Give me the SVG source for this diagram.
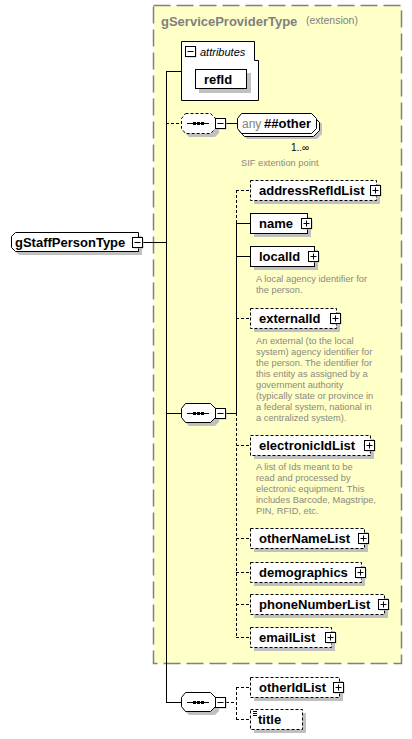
<svg xmlns="http://www.w3.org/2000/svg" width="412" height="739" viewBox="0 0 412 739">
<defs>
<style>
.lbl{font-family:"Liberation Sans",Arial,sans-serif;font-weight:bold;font-size:13px;fill:#000}
.desc{font-family:"Liberation Sans",Arial,sans-serif;font-size:9.3px;fill:#8a8a80}
.box{fill:#fff;stroke:#000;stroke-width:1}
.opt{stroke-dasharray:3,2}
.sh{fill:#c0c0c0}
.ln{stroke:#000;stroke-width:1;fill:none}
.dl{stroke:#000;stroke-width:1;fill:none;stroke-dasharray:3,2}
.ico{fill:#fff;stroke:#000;stroke-width:1}
</style>
<g id="plus"><rect x="1.5" y="1.5" width="10" height="10" fill="#c0c0c0"/><rect x="0.5" y="0.5" width="10" height="10" class="ico"/><path d="M2.5 5.5H8.5M5.5 2.5V8.5" class="ln"/></g>
<g id="minus"><rect x="1.5" y="1.5" width="10" height="10" fill="#c0c0c0"/><rect x="0.5" y="0.5" width="10" height="10" class="ico"/><path d="M2.5 5.5H8.5" class="ln"/></g>
<g id="seqicon"><path d="M6 10H28" class="ln"/><rect x="12" y="8.5" width="3" height="3" fill="#000"/><rect x="16" y="8.5" width="3" height="3" fill="#000"/><rect x="20" y="8.5" width="3" height="3" fill="#000"/></g>
</defs>

<g id="extension">
<rect x="153.5" y="5.5" width="248" height="658" fill="#ffffc8" stroke="#808080" stroke-width="1.5" stroke-dasharray="17,6"/>
<text x="161" y="26" font-family="Liberation Sans,Arial,sans-serif" font-weight="bold" font-size="13" fill="#808080">gServiceProviderType</text>
<text x="306" y="24" font-family="Liberation Sans,Arial,sans-serif" font-size="10.5" fill="#808080">(extension)</text>
</g>

<g id="connectors">
<path d="M143 242.5H166.5" class="ln"/>
<path d="M166.5 71V702.5" class="ln"/>
<path d="M166 71.5H181" class="ln"/>
<path d="M166 123.5H181" class="dl"/>
<path d="M226 123.5H237" class="ln"/>
<path d="M166 413.5H181" class="ln"/>
<path d="M226 413.5H236.5" class="ln"/>
<path d="M236.5 190V223" class="dl"/>
<path d="M236.5 223V413" class="ln"/>
<path d="M236.5 413V637.5" class="dl"/>
<path d="M236 190.5H250" class="dl"/>
<path d="M236 223.5H250" class="ln"/>
<path d="M236 256.5H250" class="ln"/>
<path d="M236 318.5H250" class="dl"/>
<path d="M236 445.5H250" class="dl"/>
<path d="M236 538.5H250" class="dl"/>
<path d="M236 572.5H250" class="dl"/>
<path d="M236 604.5H250" class="dl"/>
<path d="M236 637.5H250" class="dl"/>
<path d="M166 702.5H181" class="ln"/>
<path d="M226 702.5H236.5" class="dl"/>
<path d="M236.5 687V719.5" class="dl"/>
<path d="M236 687.5H250" class="dl"/>
<path d="M236 719.5H250" class="dl"/>
</g>

<g id="gStaffPersonType">
<polygon points="19,236 142,236 142,255 19,255 15,251 15,240" class="sh"/>
<polygon points="15.5,232.5 138.5,232.5 138.5,251.5 15.5,251.5 11.5,247.5 11.5,236.5" class="box"/>
<text x="15" y="247" class="lbl">gStaffPersonType</text>
<use href="#minus" x="132" y="237"/>
</g>

<g id="attributes">
<polygon points="181.5,41.5 254.5,41.5 254.5,60.5 258.5,60.5 258.5,100.5 181.5,100.5" fill="#fff" stroke="#000"/>
<use href="#minus" x="185" y="46"/>
<text x="200" y="56" font-family="Liberation Sans,Arial,sans-serif" font-style="italic" font-size="11" fill="#000">attributes</text>
</g>

<g id="refId">
<rect x="199" y="73" width="52" height="20" class="sh"/>
<rect x="195.5" y="69.5" width="51" height="19" class="box"/>
<text x="204" y="84" class="lbl">refId</text>
</g>

<g id="seq1">
<polygon points="189,117 215,117 219,121 219,133 215,137 189,137 185,133 185,121" class="sh"/>
<polygon points="185.5,113.5 210.5,113.5 215.5,118.5 215.5,128.5 210.5,133.5 185.5,133.5 181.5,128.5 181.5,118.5" class="box opt"/>
<use href="#seqicon" x="181" y="113.5"/>
<use href="#minus" x="215" y="118"/>
</g>

<g id="any">
<polygon points="247,119 317,119 322,124 322,134 317,139 247,139 242,134 242,124" class="sh"/>
<polygon points="244.5,116.5 313.5,116.5 319.5,122.5 319.5,130.5 313.5,136.5 244.5,136.5 239.5,131.5 239.5,121.5" class="box"/>
<polygon points="241.5,113.5 311.5,113.5 316.5,118.5 316.5,128.5 311.5,133.5 241.5,133.5 237.5,128.5 237.5,118.5" class="box"/>
<text x="242" y="128" font-family="Liberation Sans,Arial,sans-serif" font-size="12" fill="#808080">any</text>
<text x="264" y="128" class="lbl">##other</text>
<text x="291" y="151" font-family="Liberation Sans,Arial,sans-serif" font-size="10" fill="#000">1..∞</text>
<text x="241" y="166" class="desc">SIF extention point</text>
</g>

<g id="seq2">
<polygon points="189,407 215,407 219,411 219,422 215,426 189,426 185,422 185,411" class="sh"/>
<polygon points="185.5,403.5 210.5,403.5 215.5,408.5 215.5,417.5 210.5,422.5 185.5,422.5 181.5,417.5 181.5,408.5" class="box"/>
<use href="#seqicon" x="181" y="403.5"/>
<use href="#minus" x="215" y="408"/>
</g>

<g id="seq3">
<polygon points="189,696 215,696 219,700 219,711 215,715 189,715 185,711 185,700" class="sh"/>
<polygon points="185.5,692.5 210.5,692.5 215.5,697.5 215.5,706.5 210.5,711.5 185.5,711.5 181.5,706.5 181.5,697.5" class="box"/>
<use href="#seqicon" x="181" y="692.5"/>
<use href="#minus" x="215" y="697"/>
</g>

<g id="addressRefIdList">
<rect x="254" y="184" width="126" height="20" class="sh"/>
<rect x="250.5" y="180.5" width="126" height="20" class="box opt"/>
<text x="259" y="195" class="lbl">addressRefIdList</text>
<use href="#plus" x="370" y="185"/>
</g>

<g id="name">
<rect x="254" y="217" width="57" height="20" class="sh"/>
<rect x="250.5" y="213.5" width="57" height="20" class="box"/>
<text x="259" y="228" class="lbl">name</text>
<use href="#plus" x="301" y="218"/>
</g>

<g id="localId">
<rect x="254" y="250" width="64" height="20" class="sh"/>
<rect x="250.5" y="246.5" width="64" height="20" class="box"/>
<text x="259" y="261" class="lbl">localId</text>
<use href="#plus" x="308" y="251"/>
<text class="desc"><tspan x="256" y="282">A local agency identifier for</tspan><tspan x="256" y="292.5">the person.</tspan></text>
</g>

<g id="externalId">
<rect x="254" y="312" width="86" height="20" class="sh"/>
<rect x="250.5" y="308.5" width="86" height="20" class="box opt"/>
<text x="259" y="323" class="lbl">externalId</text>
<use href="#plus" x="330" y="313"/>
<text class="desc"><tspan x="256" y="343.5">An external (to the local</tspan><tspan x="256" y="354.5">system) agency identifier for</tspan><tspan x="256" y="365.5">the person. The identifier for</tspan><tspan x="256" y="376.5">this entity as assigned by a</tspan><tspan x="256" y="387.5">government authority</tspan><tspan x="256" y="398.5">(typically state or province in</tspan><tspan x="256" y="409.5">a federal system, national in</tspan><tspan x="256" y="420.5">a centralized system).</tspan></text>
</g>

<g id="electronicIdList">
<rect x="254" y="439" width="120" height="20" class="sh"/>
<rect x="250.5" y="435.5" width="120" height="20" class="box opt"/>
<text x="259" y="450" class="lbl">electronicIdList</text>
<use href="#plus" x="364" y="440"/>
<text class="desc"><tspan x="256" y="469.5">A list of Ids meant to be</tspan><tspan x="256" y="480.5">read and processed by</tspan><tspan x="256" y="491.5">electronic equipment. This</tspan><tspan x="256" y="502.5">includes Barcode, Magstripe,</tspan><tspan x="256" y="513.5">PIN, RFID, etc.</tspan></text>
</g>

<g id="otherNameList">
<rect x="254" y="532" width="114" height="20" class="sh"/>
<rect x="250.5" y="528.5" width="114" height="20" class="box opt"/>
<text x="259" y="543" class="lbl">otherNameList</text>
<use href="#plus" x="358" y="533"/>
</g>

<g id="demographics">
<rect x="254" y="566" width="111" height="20" class="sh"/>
<rect x="250.5" y="562.5" width="111" height="20" class="box opt"/>
<text x="259" y="577" class="lbl">demographics</text>
<use href="#plus" x="355" y="567"/>
</g>

<g id="phoneNumberList">
<rect x="254" y="598" width="134" height="20" class="sh"/>
<rect x="250.5" y="594.5" width="134" height="20" class="box opt"/>
<text x="259" y="609" class="lbl">phoneNumberList</text>
<use href="#plus" x="378" y="599"/>
</g>

<g id="emailList">
<rect x="254" y="631" width="81" height="20" class="sh"/>
<rect x="250.5" y="627.5" width="81" height="20" class="box opt"/>
<text x="259" y="642" class="lbl">emailList</text>
<use href="#plus" x="325" y="632"/>
</g>

<g id="otherIdList">
<rect x="254" y="681" width="89" height="20" class="sh"/>
<rect x="250.5" y="677.5" width="89" height="20" class="box opt"/>
<text x="259" y="692" class="lbl">otherIdList</text>
<use href="#plus" x="333" y="682"/>
</g>

<g id="title">
<rect x="254" y="713" width="52" height="20" class="sh"/>
<rect x="250.5" y="709.5" width="52" height="20" class="box opt"/>
<path d="M253 711.5H257M253 713.5H257M253 715.5H257" stroke="#000" stroke-width="1"/>
<text x="258" y="724" class="lbl">title</text>
</g>
</svg>
